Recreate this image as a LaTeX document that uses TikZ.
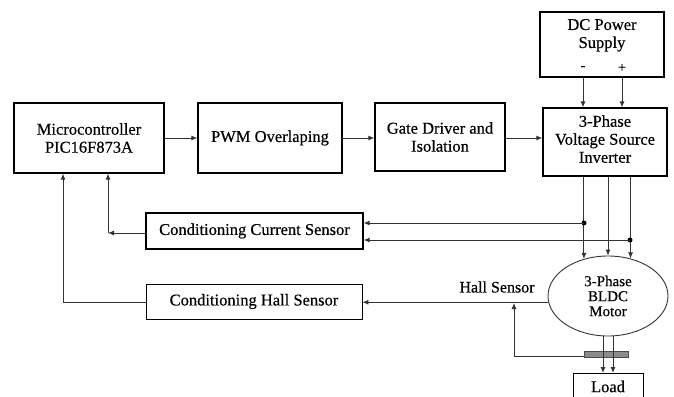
\documentclass[tikz,border=0pt]{standalone}
\usepackage{fontspec}
\setmainfont{Liberation Serif}[FakeBold=0.4]
\usetikzlibrary{arrows.meta,shapes.geometric}
\begin{document}
\begin{tikzpicture}[x=1pt,y=-1pt,
  blk/.style={draw=black,line width=1.2pt,align=center,inner sep=0pt,font=\fontsize{16.5}{18}\selectfont},
  conn/.style={draw=black!80,line width=0.9pt},
  arr/.style={conn,-{Latex[length=6pt,width=5pt]}},
  dotc/.style={circle,fill=black,inner sep=0pt,minimum size=5pt}]
\useasboundingbox (0,0) rectangle (674,396);
\node[blk,minimum width=150pt,minimum height=70pt] (mc) at (89,138) {Microcontroller\\PIC16F873A};
\node[blk,minimum width=144pt,minimum height=70pt] (pwm) at (270,138) {PWM Overlaping};
\node[blk,minimum width=130pt,minimum height=68pt] (gate) at (440,137) {Gate Driver and\\Isolation};
\node[blk,minimum width=124pt,minimum height=68pt] (inv) at (605,142) {3-Phase\\Voltage Source\\Inverter\\[-12pt]\phantom{x}};
\node[blk,minimum width=124pt,minimum height=65pt] (dc) at (602,44.5) {DC Power\\Supply\\[4pt]\phantom{x}};
\node[font=\fontsize{14}{16}\selectfont] (minus) at (583,68) {-};
\node[font=\fontsize{14}{16}\selectfont] (plus) at (622,68) {+};
\node[blk,minimum width=217pt,minimum height=36pt] (ccs) at (254.5,231) {Conditioning Current Sensor};
\node[blk,minimum width=216pt,minimum height=35pt,line width=0.9pt] (chs) at (254,301.5) {Conditioning Hall Sensor};
\node[ellipse,draw=black!80,line width=0.9pt,minimum width=120pt,minimum height=80pt,inner sep=0pt,align=center,font=\fontsize{15}{15}\selectfont] (motor) at (608,296) {3-Phase\\BLDC\\Motor};
\node[blk,line width=0.9pt,minimum width=70pt,minimum height=34pt,anchor=north] (load) at (608,373) {\raisebox{8pt}{Load}};
\node[draw=black!70,fill=black!45,minimum width=44pt,minimum height=6pt,inner sep=0pt] (bar) at (606,354) {};
\node[font=\fontsize{16}{18}\selectfont] (hall) at (497,287) {Hall Sensor};

% main chain
\draw[arr] (mc.east |- 0,138) -- (pwm.west |- 0,138);
\draw[arr] (pwm.east |- 0,138) -- (gate.west |- 0,138);
\draw[arr] (gate.east |- 0,138) -- (inv.west |- 0,138);
% DC supply
\draw[arr] (minus |- dc.south) -- (minus |- inv.north);
\draw[arr] (plus |- dc.south) -- (plus |- inv.north);
% inverter to motor
\draw[arr] (motor.123.2 |- inv.south) -- (motor.123.2);
\draw[arr] (motor.north |- inv.south) -- (motor.north);
\draw[arr] (motor.59.4 |- inv.south) -- (motor.59.4);
\coordinate (j1) at (584,223);
\coordinate (j2) at (630,240);
\node[dotc] (d1) at (j1) {};
\node[dotc] (d2) at (j2) {};
\draw[arr] (j1) -- (j1 -| ccs.east);
\draw[arr] (j2) -- (j2 -| ccs.east);
% current sensor feedback
\coordinate (c1) at (108,233);
\draw[arr] (ccs.west |- c1) -- (c1);
\draw[arr] (c1) -- (c1 |- mc.south);
% hall sensor
\draw[arr] (motor.186.75) -- (motor.186.75 -| chs.east);
\coordinate (h1) at (514,356);
\draw[conn] (bar.west |- h1) -- (h1);
\draw[arr] (h1) -- (514,303);
\coordinate (c2) at (63,302);
\draw[conn] (chs.west |- c2) -- (c2);
\draw[arr] (c2) -- (c2 |- mc.south);
% shaft
\draw[arr] ([xshift=-5pt]motor.south) -- ([xshift=-5pt]motor.south |- load.north);
\draw[arr] ([xshift=5pt]motor.south) -- ([xshift=5pt]motor.south |- load.north);
\end{tikzpicture}
\end{document}
